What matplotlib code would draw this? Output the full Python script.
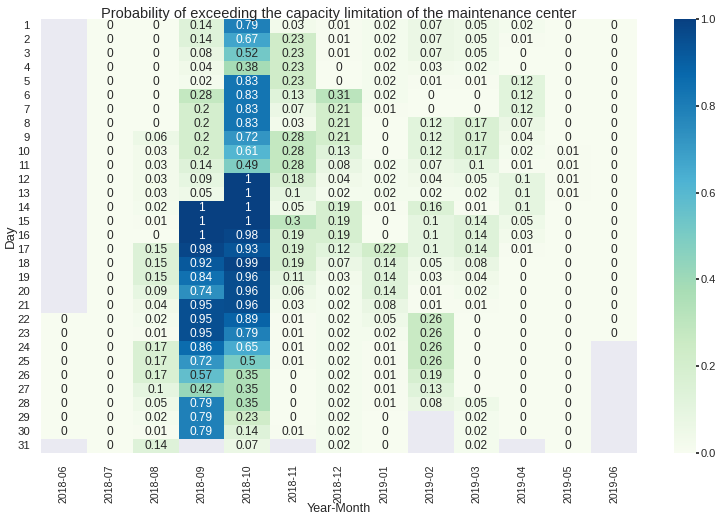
import numpy as np
import pandas as pd
import matplotlib
matplotlib.use("Agg")
import matplotlib.pyplot as plt
from matplotlib.ticker import FormatStrFormatter
import seaborn as sns

nan = np.nan
months = ["2018-06", "2018-07", "2018-08", "2018-09", "2018-10", "2018-11", "2018-12",
          "2019-01", "2019-02", "2019-03", "2019-04", "2019-05", "2019-06"]
days = list(range(1, 32))

m_2018_06 = [nan]*21 + [0]*9 + [nan]
m_2018_07 = [0]*31
m_2018_08 = [0, 0, 0, 0, 0, 0, 0, 0, 0.06, 0.03, 0.03, 0.03, 0.03, 0.02, 0.01, 0,
             0.15, 0.15, 0.15, 0.09, 0.04, 0.02, 0.01, 0.17, 0.17, 0.17, 0.1, 0.05, 0.02, 0.01, 0.14]
m_2018_09 = [0.14, 0.14, 0.08, 0.04, 0.02, 0.28, 0.2, 0.2, 0.2, 0.2, 0.14, 0.09, 0.05, 1, 1, 1,
             0.98, 0.92, 0.84, 0.74, 0.95, 0.95, 0.95, 0.86, 0.72, 0.57, 0.42, 0.79, 0.79, 0.79, nan]
m_2018_10 = [0.79, 0.67, 0.52, 0.38, 0.83, 0.83, 0.83, 0.83, 0.72, 0.61, 0.49, 1, 1, 1, 1, 0.98,
             0.93, 0.99, 0.96, 0.96, 0.96, 0.89, 0.79, 0.65, 0.5, 0.35, 0.35, 0.35, 0.23, 0.14, 0.07]
m_2018_11 = [0.03, 0.23, 0.23, 0.23, 0.23, 0.13, 0.07, 0.03, 0.28, 0.28, 0.28, 0.18, 0.1, 0.05, 0.3, 0.19,
             0.19, 0.19, 0.11, 0.06, 0.03, 0.01, 0.01, 0.01, 0.01, 0, 0, 0, 0, 0.01, nan]
m_2018_12 = [0.01, 0.01, 0.01, 0, 0, 0.31, 0.21, 0.21, 0.21, 0.13, 0.08, 0.04, 0.02, 0.19, 0.19, 0.19,
             0.12, 0.07, 0.03, 0.02, 0.02, 0.02, 0.02, 0.02, 0.02, 0.02, 0.02, 0.02, 0.02, 0.02, 0.02]
m_2019_01 = [0.02, 0.02, 0.02, 0.02, 0.02, 0.02, 0.01, 0, 0, 0, 0.02, 0.02, 0.02, 0.01, 0, 0,
             0.22, 0.14, 0.14, 0.14, 0.08, 0.05, 0.02, 0.01, 0.01, 0.01, 0.01, 0.01, 0, 0, 0]
m_2019_02 = [0.07, 0.07, 0.07, 0.03, 0.01, 0, 0, 0.12, 0.12, 0.12, 0.07, 0.04, 0.02, 0.16, 0.1, 0.1,
             0.1, 0.05, 0.03, 0.01, 0.01, 0.26, 0.26, 0.26, 0.26, 0.19, 0.13, 0.08, nan, nan, nan]
m_2019_03 = [0.05, 0.05, 0.05, 0.02, 0.01, 0, 0, 0.17, 0.17, 0.17, 0.1, 0.05, 0.02, 0.01, 0.14, 0.14,
             0.14, 0.08, 0.04, 0.02, 0.01, 0, 0, 0, 0, 0, 0, 0.05, 0.02, 0.02, 0.02]
m_2019_04 = [0.02, 0.01, 0, 0, 0.12, 0.12, 0.12, 0.07, 0.04, 0.02, 0.01, 0.1, 0.1, 0.1, 0.05, 0.03,
             0.01, 0, 0, 0, 0, 0, 0, 0, 0, 0, 0, 0, 0, 0, nan]
m_2019_05 = [0]*9 + [0.01]*4 + [0]*18
m_2019_06 = [0]*23 + [nan]*8

cols = [m_2018_06, m_2018_07, m_2018_08, m_2018_09, m_2018_10, m_2018_11, m_2018_12,
        m_2019_01, m_2019_02, m_2019_03, m_2019_04, m_2019_05, m_2019_06]
df = pd.DataFrame(dict(zip(months, cols)), index=days)

sns.set()
plt.rcParams['font.family'] = ['Liberation Sans', 'DejaVu Sans']

fig = plt.figure(figsize=(7.15, 5.15), dpi=100)
ax = fig.add_axes([41/715, 62/515, 596/715, 434/515])
cax = fig.add_axes([674/715, 62/515, 22/715, 434/515])

sns.heatmap(df, cmap="GnBu", vmin=0, vmax=1, annot=True, fmt="g",
            annot_kws={"size": 8.6}, ax=ax, cbar_ax=cax,
            xticklabels=True, yticklabels=True)
ax.grid(False)
ax.set_title("Probability of exceeding the capacity limitation of the maintenance center",
             fontsize=10.5, pad=1)
ax.set_xlabel("Year-Month", fontsize=9, labelpad=0)
ax.set_ylabel("Day", fontsize=9.5, labelpad=0)
ax.tick_params(axis='x', labelsize=7.6, rotation=90, pad=2)
ax.tick_params(axis='y', labelsize=8.2, rotation=0, pad=2)
cax.yaxis.set_major_formatter(FormatStrFormatter('%.1f'))
cax.tick_params(labelsize=8, length=2, pad=1)
cax.grid(False)
for s in cax.spines.values():
    s.set_visible(False)

fig.savefig("out.png", dpi=100)
